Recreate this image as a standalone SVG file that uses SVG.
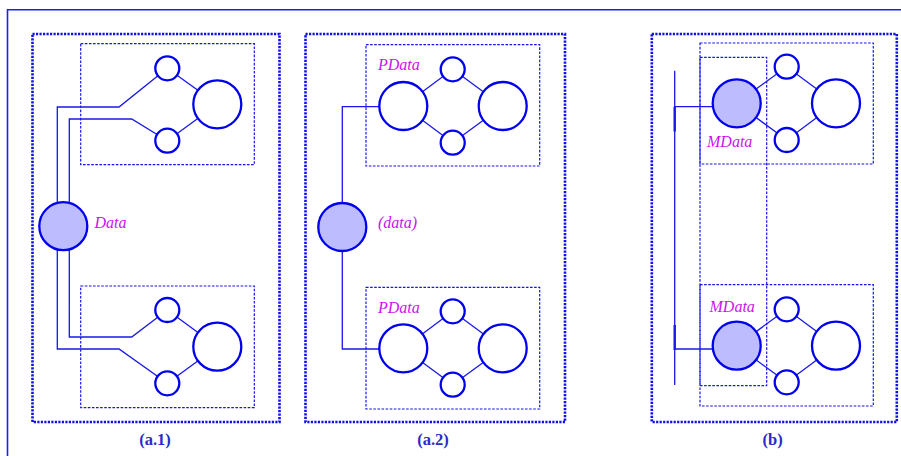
<svg xmlns="http://www.w3.org/2000/svg" width="901" height="456" viewBox="0 0 901 456">
<style>
.frame{fill:none;stroke:#2020e0;stroke-width:1.6}
.outer{fill:none;stroke:#1010ee;stroke-width:2.6;stroke-dasharray:2.2 1.3}
.inner{fill:none;stroke:#1414ee;stroke-width:1.2;stroke-dasharray:2.6 1.5}
.n{fill:#fff;stroke:#0000ee;stroke-width:2.3}
.f{fill:#bcbcff;stroke:#0000ee;stroke-width:2.3}
.c{fill:none;stroke:#1818e8;stroke-width:1.3}
.lab{font-family:"Liberation Serif",serif;font-style:italic;font-size:16px;fill:#cc11ee}
.cap{font-family:"Liberation Serif",serif;font-weight:bold;font-size:16.5px;fill:#2a2acc;text-anchor:middle}
</style>
<rect width="901" height="456" fill="#fff"/>
<g id="frame">
<path class="frame" d="M7.5 456 V9.8 H901"/>
</g>
<g id="boxes">
<rect class="outer" x="32.5" y="34" width="247" height="388"/>
<rect class="inner" x="80.7" y="43.7" width="173.6" height="121"/>
<rect class="inner" x="80.7" y="286" width="173.6" height="121.7"/>
<rect class="outer" x="305.5" y="34" width="259.5" height="388"/>
<rect class="inner" x="366" y="44.7" width="173.7" height="121.3"/>
<rect class="inner" x="366" y="287.3" width="173.7" height="121.7"/>
<rect class="outer" x="651.8" y="34" width="245" height="388"/>
<rect class="inner" x="700" y="43" width="173.3" height="121"/>
<rect class="inner" x="700" y="284.7" width="173.3" height="121.3"/>
<rect class="inner" x="700" y="57.3" width="66.7" height="328.4"/>
</g>
<g id="connectors">
<path class="c" d="M57.3 205 V107 H119 L167.3 68.3"/>
<path class="c" d="M69.3 205 V119 H131.7 L167.3 140.7"/>
<path class="c" d="M69.3 248 V337 H131.7 L167.3 310"/>
<path class="c" d="M57.3 248 V349 H119 L167.3 383.3"/>
<path class="c" d="M167.3 68.3 L217.3 104.3 L167.3 140.7"/>
<path class="c" d="M167.3 310 L217.3 346.7 L167.3 383.3"/>
<path class="c" d="M342.3 227 V106.7 H403.3"/>
<path class="c" d="M342.3 227 V349 H403.3"/>
<path class="c" d="M403.3 106 L452.7 69.3 L502.7 106 L452.7 142.7 Z"/>
<path class="c" d="M403.3 348.3 L452.7 311.3 L502.7 348.3 L452.7 384.7 Z"/>
<path class="c" d="M674.7 70.7 V385"/>
<path stroke="#1818e8" stroke-width="2.4" d="M674.7 106.7 V131.5 M674.7 325 V350"/>
<path class="c" d="M674.7 106.7 H736.7"/>
<path class="c" d="M674.7 349 H736.7"/>
<path class="c" d="M736.7 103.3 L786.7 66.7 L836 103.3 L786.7 140 Z"/>
<path class="c" d="M736.7 345.7 L786.7 309.3 L836 345.7 L786.7 382.3 Z"/>
</g>
<g id="a1">
<g id="a1-data"><circle class="f" cx="63.3" cy="226.2" r="24"/><text class="lab" x="94.5" y="228">Data</text></g>
<g id="a1-top"><circle class="n" cx="167.3" cy="68.3" r="12"/><circle class="n" cx="167.3" cy="140.7" r="12"/><circle class="n" cx="217.3" cy="104.3" r="24"/></g>
<g id="a1-bot"><circle class="n" cx="167.3" cy="310" r="12"/><circle class="n" cx="167.3" cy="383.3" r="12"/><circle class="n" cx="217.3" cy="346.7" r="24"/></g>
<text class="cap" x="155" y="445">(a.1)</text>
</g>
<g id="a2">
<g id="a2-data"><circle class="f" cx="342.3" cy="227" r="24"/><text class="lab" x="378" y="228">(data)</text></g>
<g id="a2-top"><text class="lab" x="378" y="70">PData</text><circle class="n" cx="403.3" cy="106" r="24"/><circle class="n" cx="502.7" cy="106" r="24"/><circle class="n" cx="452.7" cy="69.3" r="12"/><circle class="n" cx="452.7" cy="142.7" r="12"/></g>
<g id="a2-bot"><text class="lab" x="378" y="313">PData</text><circle class="n" cx="403.3" cy="348.3" r="24"/><circle class="n" cx="502.7" cy="348.3" r="24"/><circle class="n" cx="452.7" cy="311.3" r="12"/><circle class="n" cx="452.7" cy="384.7" r="12"/></g>
<text class="cap" x="433" y="445">(a.2)</text>
</g>
<g id="b">
<g id="b-top"><circle class="f" cx="736.7" cy="103.3" r="24"/><text class="lab" x="707" y="147">MData</text><circle class="n" cx="786.7" cy="66.7" r="12"/><circle class="n" cx="786.7" cy="140" r="12"/><circle class="n" cx="836" cy="103.3" r="24"/></g>
<g id="b-bot"><circle class="f" cx="736.7" cy="345.7" r="24"/><text class="lab" x="709.5" y="312">MData</text><circle class="n" cx="786.7" cy="309.3" r="12"/><circle class="n" cx="786.7" cy="382.3" r="12"/><circle class="n" cx="836" cy="345.7" r="24"/></g>
<text class="cap" x="772.7" y="445">(b)</text>
</g>
</svg>
